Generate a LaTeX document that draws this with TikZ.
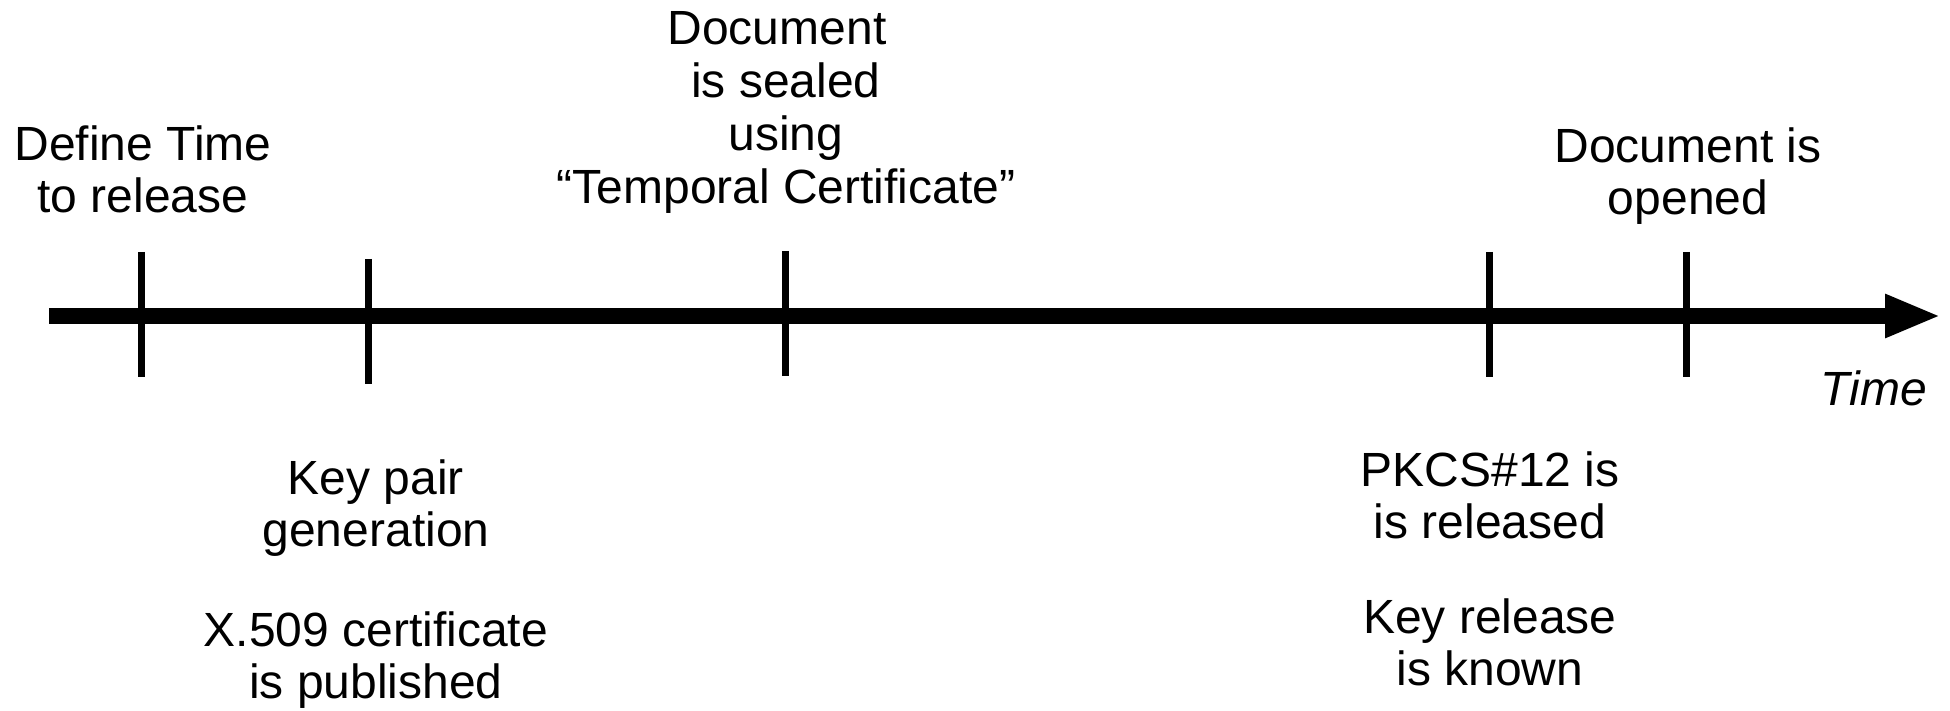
\documentclass[tikz,border=0pt]{standalone}
\usepackage{fontspec}
\setmainfont{Liberation Sans}
\usetikzlibrary{arrows.meta}
\setlength{\tabcolsep}{0pt}
\begin{document}
\begin{tikzpicture}[x=1pt,y=-1pt,
  lbl/.style={anchor=base,inner sep=0pt,font=\fontsize{48}{52}\selectfont},
  tickmark/.style={line width=7pt},
  axis/.style={line width=16pt,-{Triangle[length=56pt,width=40pt]}}]
\useasboundingbox (0,0) rectangle (1950,711);

% time axis
\coordinate (axstart) at (49,316);
\coordinate (axend) at (1941,316);
\draw[axis] (axstart) -- (axend);

% event ticks
\coordinate (t1a) at (141.5,252); \coordinate (t1b) at (141.5,377);
\coordinate (t2a) at (368,259);   \coordinate (t2b) at (368,384);
\coordinate (t3a) at (785,251);   \coordinate (t3b) at (785,376);
\coordinate (t4a) at (1489,252);  \coordinate (t4b) at (1489,377);
\coordinate (t5a) at (1686,252);  \coordinate (t5b) at (1686,377);
\draw[tickmark] (t1a) -- (t1b);
\draw[tickmark] (t2a) -- (t2b);
\draw[tickmark] (t3a) -- (t3b);
\draw[tickmark] (t4a) -- (t4b);
\draw[tickmark] (t5a) -- (t5b);

% event labels
\node[lbl] (define) at (143,161)
  {\begin{tabular}[t]{c}Define Time\\to release\end{tabular}};
\node[lbl,font=\fontsize{48}{52.7}\selectfont] (sealed) at (786,45)
  {\begin{tabular}[t]{c}Document\hspace*{18pt}\\is sealed\\using\\“Temporal Certificate”\end{tabular}};
\node[lbl] (opened) at (1688,163)
  {\begin{tabular}[t]{c}Document is\\opened\end{tabular}};
\node[lbl] (keygen) at (376,494)
  {\begin{tabular}[t]{c}Key pair\\generation\\[48pt]X.509 certificate\\is published\end{tabular}};
\node[lbl] (release) at (1490,486)
  {\begin{tabular}[t]{c}PKCS\#12 is\\is released\\[43pt]Key release\\is known\end{tabular}};
\node[lbl,font=\fontsize{48}{52}\selectfont\itshape] (timelbl) at (1874,405) {Time};
\end{tikzpicture}
\end{document}
